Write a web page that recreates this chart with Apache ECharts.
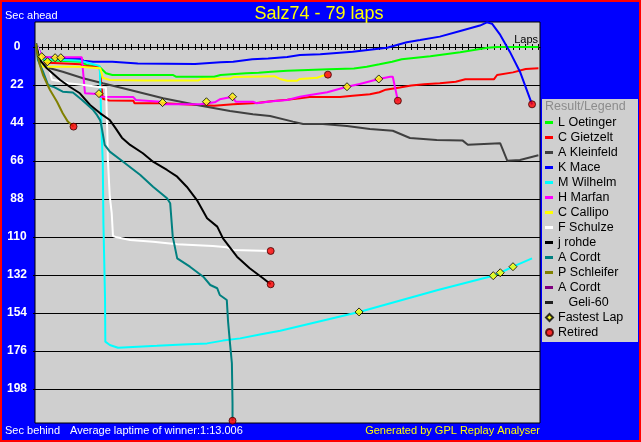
<!DOCTYPE html>
<html><head><meta charset="utf-8">
<script src="https://cdn.jsdelivr.net/npm/echarts@6/dist/echarts.min.js"></script>
<style>html,body{margin:0;padding:0;background:#0000ff;}#c{width:641px;height:442px;}</style>
</head><body><div id="c"></div>
<script>
// ---- data: [lap, seconds behind leader-reference] ----
const oetinger = [[0,-2],[1,7.5],[7,8.5],[8,10.4],[10,11.5],[11,15.2],[12,16.2],[21.5,16.2],[22,17.2],[28,17.2],[29,16.2],[33,15.2],[35,14.9],[37,14.3],[39.5,13.7],[46,12.9],[50,12.5],[52,11.4],[54,10],[56,8.5],[57.5,7.1],[62,5.4],[66.7,3.1],[71,0.4],[72.5,0],[79,0]];
const gietzelt = [[0,-2],[1,9],[7,10],[7.5,11],[10,11.6],[10.5,30],[11.5,31],[15.3,31.1],[15.5,32.6],[20,32.6],[20.3,33.6],[28,34],[31,33.2],[34.7,32.4],[37.3,31.3],[39.5,30.5],[41.5,29.7],[43,29],[47.8,29],[49.8,28.2],[52.5,27.4],[54,26.2],[55,24.7],[57.2,23.5],[59,22.3],[61,21.6],[63.5,21],[66,20.1],[67.5,18.7],[72,18.7],[72.5,16.2],[75,14.7],[77,12.7],[79,12.3]];
const kleinfeld = [[0,-2],[0.6,8.5],[2.2,12.3],[4.2,14.3],[7.4,18.1],[10.5,21],[14.8,24.9],[20,29.7],[25.3,33.6],[30.5,37.1],[34.1,39],[36.8,40],[40.4,43.2],[42,44.6],[45.1,44.6],[48.9,45.7],[52.5,47.5],[56.1,48.5],[58.8,52.7],[63,53.8],[67.1,54.2],[67.9,56.6],[73,55.8],[74.1,65.8],[76.1,65.4],[79,62.7]];
const mace = [[0,-2],[1,6],[7,7],[7.5,7.9],[9,8.5],[12,8.5],[16,9.5],[25,9.8],[29,8.9],[31,8.5],[34,7.1],[36.5,6.6],[39.5,5.8],[41.5,4.6],[44.7,4.2],[49.8,2.7],[55.2,0.4],[58.3,-2.7],[60.4,-4],[63.5,-6],[66.7,-9.3],[69.8,-12.4],[70.9,-14.3],[71.7,-13.5],[73,-7],[74.5,2.7],[76.1,14.3],[78,33.2]];
const wilhelm = [[0,-2],[1,7],[7,8],[10,11],[10.05,14.3],[10.3,48],[10.5,67],[10.6,102],[10.85,145],[10.9,170.6],[11.6,172.5],[12.9,174.1],[16,173.5],[19,173],[23.1,172.2],[26.9,171.6],[29.4,170],[32.1,168.7],[35.2,166.4],[38.4,164.3],[50.8,153.4],[63.2,140.7],[71.9,132.4],[73,130.7],[75,127.2],[78,122.4]];
const marfan = [[0,-2],[1,6],[7.2,6],[7.7,26.8],[9.7,27.2],[10.1,28.8],[15.3,29],[15.7,30.7],[16,31.7],[19.5,31.7],[19.8,33.2],[25.8,33.2],[28.1,32],[28.9,30.3],[30.9,28.8],[31.4,31.7],[34.1,31.7],[34.7,32.6],[36.8,31.5],[39.5,30.7],[41.5,28.8],[43.1,27.8],[45.8,26.2],[48.9,23],[50.9,21.4],[53.9,18.5],[55.7,17.2],[56.1,17.2],[56.9,31.1]];
const callipo = [[0,-2],[1.1,11.4],[6.9,11.4],[7.2,12.3],[10.1,12.3],[10.5,17.8],[11.6,19.1],[17,19.4],[25.5,19.4],[26,18.5],[30.5,18.3],[31,17.4],[37.5,16.9],[38.5,18.7],[39.5,19.6],[41,19.6],[41.5,18.5],[44.2,17.8],[45.1,16.6],[45.9,16]];
const schulze = [[0,-2],[1.1,9.5],[2.2,14.3],[2.5,19],[4.2,20.1],[5,21],[7.5,22],[9.6,23],[11,23.6],[11.2,48],[11.3,65.4],[11.6,86.7],[11.9,96],[12.1,109.4],[12.7,110.2],[14.8,111.7],[18.4,112.7],[22.2,114.2],[27.8,115.2],[30,116],[31,117.5],[36.9,118.1]];
const rohde = [[0,-2],[0.6,7.5],[1.7,12.3],[3.8,19.1],[5.3,23],[6.9,26.8],[8.5,33.6],[10.1,38.4],[11.6,42.3],[12.5,47],[13.5,52.5],[14.8,56.7],[16.8,61.5],[18.4,66.4],[20.6,71.2],[22.2,75.1],[23.7,80.9],[25.3,88.6],[26.9,99.2],[28.5,104],[29.4,110.8],[31.6,121.4],[33.6,128.1],[35.7,133.9],[36.9,137.4]];
const cordt = [[0,-2],[0.3,7.5],[1.1,14.3],[1.9,22],[2.7,23],[4.2,25.9],[5.8,26.4],[7.2,30.5],[9,36.5],[9.6,39.5],[10.1,42.5],[10.4,48],[10.8,56.7],[11.6,60.6],[13.7,66.4],[16.4,74.1],[18.4,80.9],[20.6,87.6],[21.1,90.5],[21.5,109.8],[22.2,122.4],[24.2,127.2],[26.3,133],[27.4,137.8],[28.5,139.7],[28.9,143.6],[30,146.5],[30.2,159],[30.5,171.5],[30.8,183.1],[30.9,206.3],[30.9,216.4]];
const schleifer = [[0,-2],[0.1,1.7],[0.6,10.4],[1.1,16.2],[1.7,21],[2.2,24.9],[3.3,31.7],[4.2,38.4],[5,43.2],[5.9,46.1]];
const cordt2 = [];
const geli60 = [];
const fastestLaps = [[0.9,5.6],[1.8,8.5],[3,6.2],[3.9,6.2],[9.9,27],[19.9,32.2],[26.8,31.7],[30.9,28.8],[48.9,23],[53.9,18.5],[50.8,153.4],[71.9,132.4],[73,130.7],[75,127.2]];
const retired = [[5.9,46.1],[45.9,16],[56.9,31.1],[78,33.2],[36.9,118.1],[36.9,137.4],[30.9,216.4]];

const driverNames = ['L Oetinger','C Gietzelt','A Kleinfeld','K Mace','M Wilhelm','H Marfan','C Callipo','F Schulze','j rohde','A Cordt','P Schleifer','A Cordt ','   Geli-60'];
const yTicks = [0,22,44,66,88,110,132,154,176,198];
const lapTicks = Array.from({length:80},(_,i)=>i);

// ---- styles ----
const driverColors = ['#00ff00','#ff0000','#404040','#0000ff','#00ffff','#ff00ff','#ffff00','#ffffff','#000000','#008080','#808000','#800080','#202020'];
const driverData = [oetinger,gietzelt,kleinfeld,mace,wilhelm,marfan,callipo,schulze,rohde,cordt,schleifer,cordt2,geli60];
const FONT = '"Liberation Sans", Arial, sans-serif';
const xMin = -0.16, xMax = 79.25, yMin = -14.47, yMax = 217.7;

const series = driverNames.map((n,i)=>({
  type:'line', name:n, data:driverData[i], showSymbol:false, symbol:'none',
  lineStyle:{width:2,color:driverColors[i]}, itemStyle:{color:driverColors[i]},
  animation:false, z:2, silent:true
}));
series.push({type:'scatter', name:'Fastest Lap', data:fastestLaps, symbol:'diamond', symbolSize:8,
  itemStyle:{color:'#ffff00', borderColor:'#000', borderWidth:1}, z:5, animation:false, silent:true});
series.push({type:'scatter', name:'Retired', data:retired, symbol:'circle', symbolSize:7,
  itemStyle:{color:'#ff0000', borderColor:'#400000', borderWidth:1}, z:6, animation:false, silent:true});

function txt(text,x,y,color,size,align){
  return {type:'text', x:x, y:y, z:10, style:{text:text, fill:color, font:size+'px '+FONT, textAlign:align||'left', align:align||'left', textVerticalAlign:'middle', verticalAlign:'middle'}};
}

const chart = echarts.init(document.getElementById('c'), null, {renderer:'canvas'});
chart.setOption({
  backgroundColor:'#0000ff',
  animation:false,
  grid:{left:35, top:22, right:101, bottom:19, show:true, backgroundColor:'#cfcfcf', borderColor:'#000', borderWidth:1},
  xAxis:[
    {type:'value', min:xMin, max:xMax, position:'bottom',
     axisLine:{onZero:true, onZeroAxisIndex:0, lineStyle:{color:'#000', width:1}},
     axisTick:{show:true, customValues:lapTicks, length:3, inside:false, lineStyle:{color:'#000'}},
     axisLabel:{show:false}, splitLine:{show:false}},
    {type:'value', min:xMin, max:xMax, position:'bottom',
     axisLine:{onZero:true, onZeroAxisIndex:1, lineStyle:{color:'#000', width:1}},
     axisTick:{show:true, customValues:lapTicks, length:3, inside:true, lineStyle:{color:'#000'}},
     axisLabel:{show:false}, splitLine:{show:false}}
  ],
  yAxis:[
    {type:'value', inverse:true, min:yMin, max:yMax,
     axisLine:{show:false},
     axisTick:{show:true, customValues:yTicks, length:3, lineStyle:{color:'#000'}},
     axisLabel:{customValues:yTicks, color:'#fff', fontWeight:'bold', fontSize:12, fontFamily:FONT, align:'center', margin:18},
     splitLine:{show:true, lineStyle:{color:'#000', width:1}}},
    {type:'value', inverse:true, min:yMin, max:yMax, show:false}
  ],
  legend:[
    {data:driverNames, orient:'vertical', left:545, top:116, itemWidth:8, itemHeight:3, itemGap:2, icon:'rect',
     padding:0, selectedMode:false, textStyle:{fontSize:12.5, fontFamily:FONT, color:'#000', lineHeight:13}},
    {data:['Fastest Lap','Retired'], orient:'vertical', left:545, top:311, itemWidth:7, itemHeight:7, itemGap:2,
     padding:0, selectedMode:false, textStyle:{fontSize:12.5, fontFamily:FONT, color:'#000', lineHeight:13}}
  ],
  graphic:[
    {type:'rect', shape:{x:542, y:99, width:96, height:243}, style:{fill:'#cfcfcf'}, z:-1},
    {type:'rect', shape:{x:1, y:1, width:639, height:440}, style:{fill:'none', stroke:'#ff0000', lineWidth:2}, z:20},
    txt('Salz74 - 79 laps', 319, 14, '#ffff00', 18, 'center'),
    txt('Result/Legend', 545, 107, '#8c8c8c', 12.5),
    txt('Sec ahead', 5, 16, '#ffffff', 11),
    txt('Sec behind', 5, 431, '#ffffff', 11),
    txt('Average laptime of winner:1:13.006', 70, 431, '#ffffff', 11),
    txt('Generated by GPL Replay Analyser', 540, 431, '#ffff00', 11, 'right'),
    txt('Laps', 538, 40, '#000000', 11, 'right')
  ],
  series:series
});
</script></body></html>
